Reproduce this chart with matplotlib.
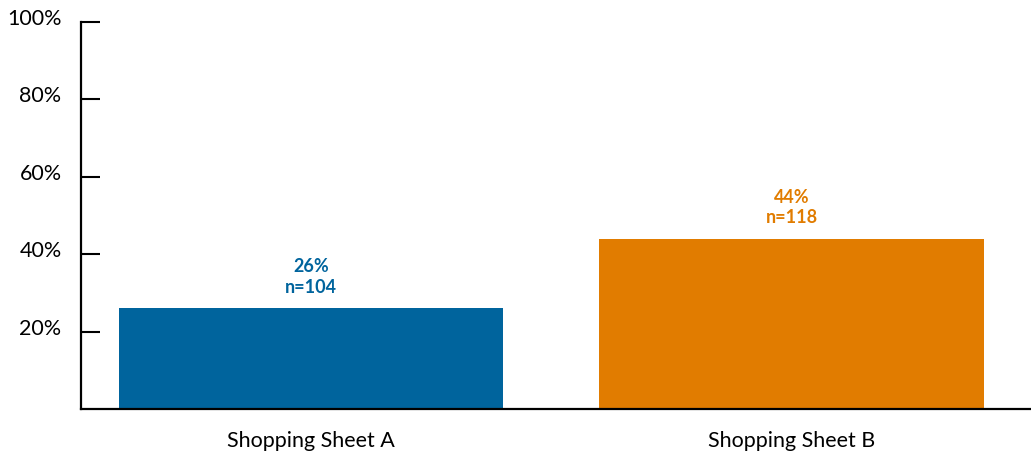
import matplotlib.pyplot as plt
import matplotlib.transforms as mtransforms

# data
sheets = ["Shopping Sheet A", "Shopping Sheet B"]
shares = [0.26, 0.44]
counts = [104, 118]
colors = ["#00649D", "#E17C00"]
yticks = [0.2, 0.4, 0.6, 0.8, 1.0]
ytick_labels = ["20%", "40%", "60%", "80%", "100%"]

plt.rcParams["font.family"] = ["Lato", "DejaVu Sans"]

fig = plt.figure(figsize=(10.31, 4.54), dpi=100)
ax = fig.add_axes([81 / 1031, 45 / 454, 1 - 81 / 1031, (409 - 22) / 454])

x = list(range(len(sheets)))
ax.bar(x, shares, width=0.8, color=colors)

for xi, s, n, c in zip(x, shares, counts, colors):
    ax.annotate(f"{s:.0%}\nn={n}", (xi, s), xytext=(0, 9), textcoords="offset points",
                ha="center", va="bottom", color=c, fontsize=13, fontweight="bold",
                linespacing=1.25)

ax.set_xlim(-0.4787, 1.498)
ax.set_ylim(0, 1)
ax.set_xticks(x)
ax.set_xticklabels(sheets, fontsize=15.5)
ax.set_yticks(yticks)
ax.set_yticklabels(ytick_labels, fontsize=15.5)

ax.tick_params(axis="x", length=0, pad=16)
ax.tick_params(axis="y", direction="in", length=14, width=1.5, pad=14)

# nudge the y labels up a bit, like the reference
shift = mtransforms.ScaledTranslation(0, 5 / 100, fig.dpi_scale_trans)
for lbl in ax.get_yticklabels():
    lbl.set_transform(lbl.get_transform() + shift)

for side in ["top", "right"]:
    ax.spines[side].set_visible(False)
for side in ["left", "bottom"]:
    ax.spines[side].set_linewidth(1.6)
ax.spines["left"].set_bounds(0, 1)

fig.savefig("out.png", dpi=100)
